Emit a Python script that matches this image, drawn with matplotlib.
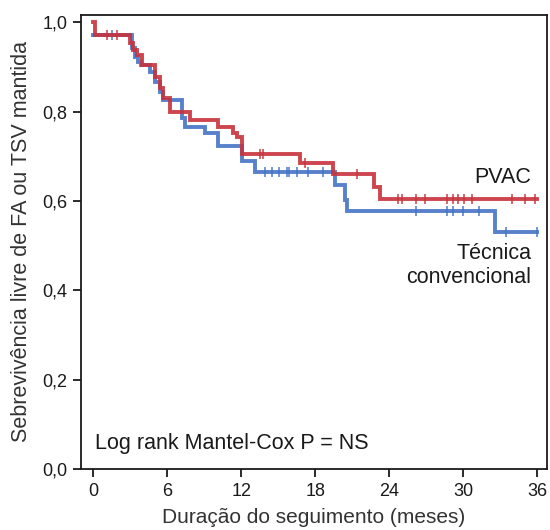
import numpy as np
import matplotlib
matplotlib.use("Agg")
import matplotlib.pyplot as plt

plt.rcParams['font.family'] = ['Liberation Sans', 'DejaVu Sans']

# Kaplan-Meier steps (time in months, survival)
pvac_t = [0, 0.1, 2.96, 3.2, 3.53, 3.93, 4.99, 5.39, 5.64, 6.2, 7.83, 10.1,
          11.3, 11.64, 12.04, 16.75, 19.42, 22.75, 23.24, 36]
pvac_s = [1.0, 0.971, 0.953, 0.937, 0.926, 0.904, 0.877, 0.852, 0.830, 0.800,
          0.780, 0.765, 0.751, 0.742, 0.706, 0.684, 0.661, 0.630, 0.605, 0.605]
pvac_cens = [1.1, 1.9, 13.5, 13.8, 17.2, 21.4, 24.7, 25.0, 26.2, 26.9, 28.7,
             29.2, 29.6, 30.1, 30.7, 34.0, 35.0, 35.8]

conv_t = [0, 3.12, 3.37, 3.6, 3.85, 4.58, 4.99, 5.39, 5.64, 7.18, 7.42, 9.04,
          10.1, 12.04, 13.1, 19.6, 20.4, 20.56, 32.6, 36]
conv_s = [0.971, 0.942, 0.922, 0.910, 0.904, 0.888, 0.865, 0.843, 0.825,
          0.785, 0.765, 0.751, 0.722, 0.690, 0.664, 0.635, 0.601, 0.578,
          0.530, 0.530]
conv_cens = [1.5, 13.9, 14.5, 15.1, 15.7, 15.9, 16.5, 17.4, 18.6, 26.2, 28.7,
             29.2, 30.0, 31.3, 33.5, 36.0]

red = '#c8323c'
blue = '#4673c6'


def surv_at(ts, ss, x):
    i = np.searchsorted(ts, x, side='right') - 1
    return np.array(ss)[i]


fig = plt.figure(figsize=(5.5, 5.3), dpi=100)
ax = fig.add_axes([0.1473, 0.1151, 0.8472, 0.8566])

for ts, ss, cens, c in [(conv_t, conv_s, conv_cens, blue),
                        (pvac_t, pvac_s, pvac_cens, red)]:
    ax.step(ts, ss, where='post', color=c, lw=2.8, alpha=0.9,
            solid_joinstyle='miter')
    ax.plot(cens, surv_at(ts, ss, cens), ls='none', marker='|',
            ms=6.5, mew=1.3, color=c, alpha=0.8)

ax.set_xlim(-1.0, 36.8)
ax.set_ylim(0, 1.016)
ax.set_xticks([0, 6, 12, 18, 24, 30, 36])
ax.set_yticks([0, 0.2, 0.4, 0.6, 0.8, 1.0])
ax.set_yticklabels(['0,0', '0,2', '0,4', '0,6', '0,8', '1,0'])
ax.tick_params(direction='out', length=6, width=1.3, labelsize=13,
               colors='#1a1a1a', pad=4)
for sp in ax.spines.values():
    sp.set_linewidth(1.3)
    sp.set_color('#1a1a1a')

ax.set_xlabel('Duração do seguimento (meses)', fontsize=15, color='#333333',
              labelpad=6)
ax.set_ylabel('Sebrevivência livre de FA ou TSV mantida', fontsize=15.5,
              color='#333333', labelpad=7)

ax.text(35.55, 0.652, 'PVAC', fontsize=15.5, ha='right', va='center',
        color='#1a1a1a')
ax.text(35.55, 0.455, 'Técnica\nconvencional', fontsize=15.5, ha='right',
        va='center', color='#1a1a1a', linespacing=1.15)
ax.text(0.1, 0.056, 'Log rank Mantel-Cox P = NS', fontsize=15.5,
        ha='left', va='center', color='#1a1a1a')

fig.savefig('out.png', dpi=100)
